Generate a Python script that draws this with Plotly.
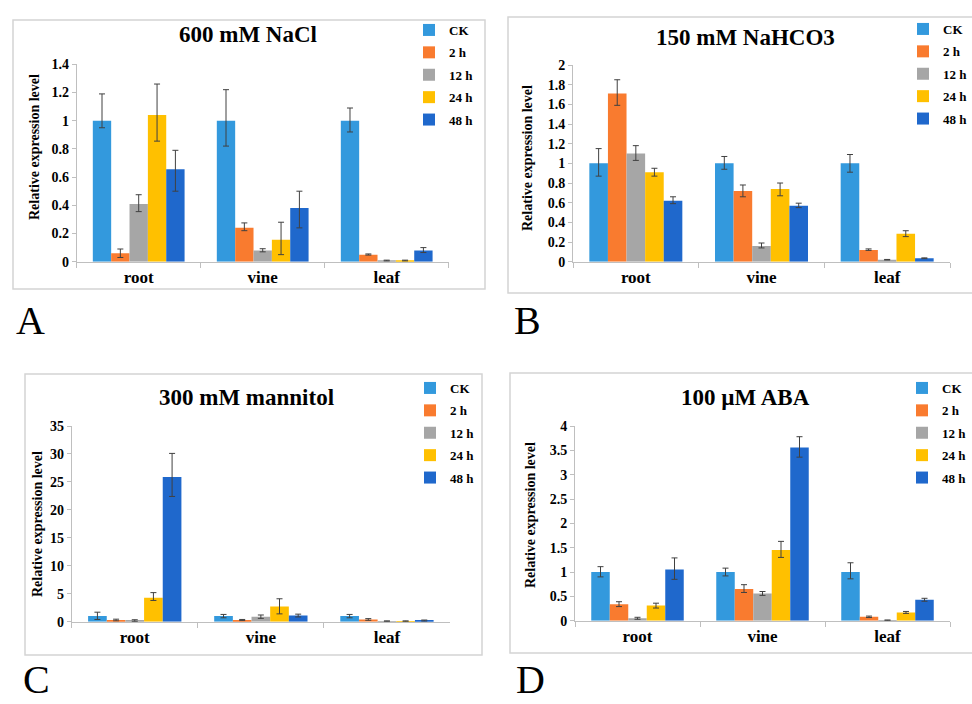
import plotly.graph_objects as go

W, H = 972, 704

categories = ["root", "vine", "leaf"]
series_names = ["CK", "2 h", "12 h", "24 h", "48 h"]
series_colors = ["#3399DD", "#F97B2F", "#A6A6A6", "#FFC000", "#1F68CC"]
panel_titles = ["600 mM NaCl", "150 mM NaHCO3", "300 mM mannitol", "100 µM ABA"]
panel_letters = ["A", "B", "C", "D"]
y_label = "Relative expression level"

# values[series][category]
nacl_values = [[1.0, 1.0, 1.0], [0.06, 0.24, 0.05], [0.41, 0.08, 0.008], [1.04, 0.155, 0.008], [0.655, 0.38, 0.08]]
nacl_err_up = [[0.19, 0.22, 0.09], [0.03, 0.035, 0.005], [0.065, 0.012, 0.003], [0.22, 0.125, 0.003], [0.135, 0.12, 0.02]]
nacl_err_down = [[0.05, 0.18, 0.08], [0.03, 0.02, 0.003], [0.055, 0.01, 0.003], [0.185, 0.105, 0.003], [0.155, 0.14, 0.015]]

nahco3_values = [[1.0, 1.0, 1.0], [1.71, 0.72, 0.12], [1.10, 0.16, 0.02], [0.91, 0.74, 0.285], [0.62, 0.57, 0.035]]
nahco3_err_up = [[0.15, 0.07, 0.09], [0.14, 0.06, 0.01], [0.08, 0.03, 0.003], [0.04, 0.06, 0.03], [0.04, 0.025, 0.004]]
nahco3_err_down = [[0.13, 0.06, 0.09], [0.12, 0.06, 0.005], [0.07, 0.02, 0.003], [0.04, 0.07, 0.03], [0.03, 0.02, 0.004]]

mannitol_values = [[1.0, 1.0, 1.0], [0.3, 0.3, 0.4], [0.2, 0.9, 0.1], [4.3, 2.7, 0.1], [25.9, 1.1, 0.2]]
mannitol_err_up = [[0.7, 0.3, 0.3], [0.15, 0.1, 0.15], [0.15, 0.3, 0.05], [0.9, 1.4, 0.05], [4.2, 0.25, 0.1]]
mannitol_err_down = [[0.6, 0.3, 0.3], [0.15, 0.1, 0.15], [0.15, 0.3, 0.05], [0.5, 1.3, 0.05], [3.5, 0.25, 0.1]]

aba_values = [[1.0, 1.0, 1.0], [0.34, 0.65, 0.08], [0.05, 0.56, 0.01], [0.31, 1.45, 0.17], [1.05, 3.56, 0.43]]
aba_err_up = [[0.11, 0.08, 0.19], [0.05, 0.09, 0.015], [0.02, 0.04, 0.005], [0.05, 0.18, 0.02], [0.24, 0.22, 0.03]]
aba_err_down = [[0.1, 0.08, 0.14], [0.05, 0.07, 0.015], [0.02, 0.04, 0.005], [0.05, 0.15, 0.02], [0.2, 0.2, 0.03]]

y_ranges = [[0, 1.4], [0, 2], [0, 35], [0, 4]]
y_dticks = [0.2, 0.2, 5, 0.5]

panel_data = [
    (nacl_values, nacl_err_up, nacl_err_down),
    (nahco3_values, nahco3_err_up, nahco3_err_down),
    (mannitol_values, mannitol_err_up, mannitol_err_down),
    (aba_values, aba_err_up, aba_err_down),
]

# layout geometry in pixels
plot_x = [(76.7, 448.7), (573, 950), (71.7, 450), (575, 950)]
plot_y = [(261.7, 64.3), (261.7, 65), (621.7, 426), (620.7, 426)]  # (bottom, top)
title_pos = [(248, 35), (745, 37), (246, 397), (745, 397)]
legend_text_pos = [(449, 29), (943, 28), (450, 387), (942, 387)]
ylab_pos = [(35, 147), (528, 158), (37, 524), (530, 515)]
letter_pos = [(30, 320), (527, 320), (36, None), (530, None)]
boxes = [(13, 20, 485, 289), (508, 17, 975, 293), (25, 374, 482, 655), (510, 373, 975, 653)]

SERIF = "Liberation Serif"


def fx(p):
    return p / W


def fy(p):
    return 1 - p / H


fig = go.Figure()
layout = dict(
    width=W, height=H, margin=dict(l=0, r=0, t=0, b=0, autoexpand=False),
    paper_bgcolor="white", plot_bgcolor="white",
    barmode="group", bargap=0.26, bargroupgap=0,
    font=dict(family=SERIF, color="black"),
    showlegend=True,
)
annotations = []
shapes = []

for p in range(4):
    vals, eu, ed = panel_data[p]
    ax = "" if p == 0 else str(p + 1)
    lg = "legend" if p == 0 else "legend" + str(p + 1)
    for s in range(5):
        fig.add_trace(go.Bar(
            x=categories, y=vals[s], name=series_names[s],
            marker=dict(color=series_colors[s], line=dict(width=0)),
            error_y=dict(type="data", symmetric=False, array=eu[s], arrayminus=ed[s],
                         color="#404040", thickness=1, width=3),
            xaxis="x" + ax, yaxis="y" + ax, legend=lg,
            legendgroup="p%d_s%d" % (p, s),
        ))
    x0, x1 = plot_x[p]
    yb, yt = plot_y[p]
    layout["xaxis" + ax] = dict(
        domain=[fx(x0), fx(x1)], anchor="y" + ax,
        showline=True, linecolor="#BFBFBF", linewidth=1,
        ticks="outside", tickson="boundaries", ticklen=5, tickcolor="#BFBFBF",
        tickfont=dict(family=SERIF, size=17, weight="bold"),
        showgrid=False, zeroline=False,
    )
    layout["yaxis" + ax] = dict(
        domain=[fy(yb), fy(yt)], anchor="x" + ax,
        range=y_ranges[p], dtick=y_dticks[p], tick0=0,
        showline=True, linecolor="#BFBFBF", linewidth=1,
        ticks="outside", ticklen=4, tickcolor="#BFBFBF",
        tickfont=dict(family=SERIF, size=14, weight="bold"),
        showgrid=False, zeroline=False,
    )
    lx, ly = legend_text_pos[p]
    layout[lg] = dict(
        x=fx(lx - 40), y=fy(ly - 14), xanchor="left", yanchor="top",
        bgcolor="rgba(0,0,0,0)", borderwidth=0,
        font=dict(family=SERIF, size=13, weight="bold"),
        tracegroupgap=2.5, itemwidth=30,
    )
    tx, ty = title_pos[p]
    annotations.append(dict(
        text=panel_titles[p], x=fx(tx), y=fy(ty), xref="paper", yref="paper",
        xanchor="center", yanchor="middle", showarrow=False,
        font=dict(family=SERIF, size=23, weight="bold"),
    ))
    yx, yy = ylab_pos[p]
    annotations.append(dict(
        text=y_label, x=fx(yx), y=fy(yy), xref="paper", yref="paper",
        xanchor="center", yanchor="middle", showarrow=False, textangle=-90,
        font=dict(family=SERIF, size=14, weight="bold"),
    ))
    Lx, Ly = letter_pos[p]
    if Ly is None:
        annotations.append(dict(
            text=panel_letters[p], x=fx(Lx), y=0, xref="paper", yref="paper",
            xanchor="center", yanchor="bottom", showarrow=False,
            font=dict(family=SERIF, size=40),
        ))
    else:
        annotations.append(dict(
            text=panel_letters[p], x=fx(Lx), y=fy(Ly), xref="paper", yref="paper",
            xanchor="center", yanchor="middle", showarrow=False,
            font=dict(family=SERIF, size=40),
        ))
    bx0, by0, bx1, by1 = boxes[p]
    shapes.append(dict(
        type="rect", xref="paper", yref="paper",
        x0=fx(bx0), x1=fx(bx1), y0=fy(by1), y1=fy(by0),
        line=dict(color="#D4D4D4", width=1.5), layer="below",
    ))

layout["annotations"] = annotations
layout["shapes"] = shapes
fig.update_layout(**layout)
fig.write_html(
    "out.html",
    config={"displayModeBar": False},
    post_script="document.body.style.margin='0';document.body.style.overflow='hidden';",
)
